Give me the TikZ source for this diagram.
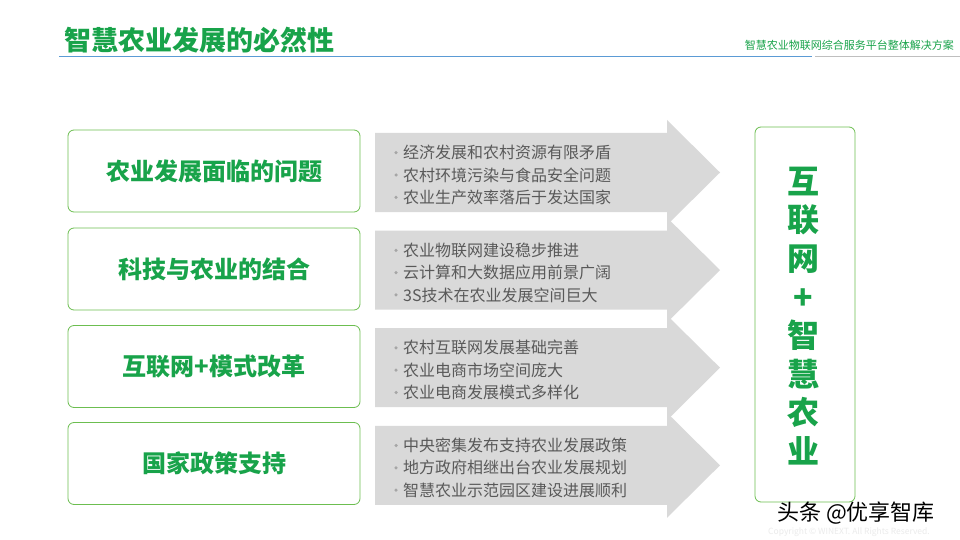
\documentclass[tikz,border=0pt]{standalone}
\usepackage{fontspec}
\setmainfont{Noto Sans CJK SC}
\newfontfamily\cjk{Noto Sans CJK SC}
\definecolor{tgreen}{RGB}{24,163,74}
\definecolor{bgreen}{RGB}{108,190,80}
\definecolor{agray}{RGB}{217,217,217}
\definecolor{tgray}{RGB}{89,89,89}
\definecolor{dgray}{RGB}{166,166,166}
\definecolor{lblue}{RGB}{91,155,213}
\definecolor{lgray}{RGB}{191,191,191}
\tikzset{
  leftbox/.style={draw=bgreen, line width=0.8pt, rounded corners=6pt, minimum width=292pt, minimum height=82pt, inner sep=0pt, text=tgreen, font=\cjk\bfseries\fontsize{24}{28}\selectfont},
  arrowshape/.style={fill=agray, draw=none},
  bullettext/.style={anchor=west, inner sep=0pt, text=tgray, font=\cjk\fontsize{16}{18}\selectfont},
  dot/.style={circle, fill=dgray, inner sep=0pt, minimum size=3.5pt},
}
\begin{document}
\begin{tikzpicture}[x=1pt,y=-1pt]
\useasboundingbox (0,0) rectangle (960,540);
\fill[white] (0,0) rectangle (960,540);
% header
\node[anchor=west, inner sep=0pt, text=tgreen, font=\cjk\bfseries\fontsize{27}{30}\selectfont] (title) at (64,40) {智慧农业发展的必然性};
\node[anchor=east, inner sep=0pt, text=tgreen, font=\cjk\fontsize{11}{13}\selectfont] (sub) at (954,45) {智慧农业物联网综合服务平台整体解决方案};
\draw[lblue, line width=1.6pt] (59,56.5) -- (812,56.5);
\draw[lgray, line width=1.6pt] (815,56.5) -- (960,56.5);
% left boxes
\node[leftbox] (b1) at (214,171) {农业发展面临的问题};
\node[leftbox] (b2) at (214,269) {科技与农业的结合};
\node[leftbox] (b3) at (214,366.5) {互联网+模式改革};
\node[leftbox] (b4) at (214,463.5) {国家政策支持};
% arrows
\foreach \i in {0,1,2,3}{
  \pgfmathsetmacro{\yt}{133+97.6*\i}
  \fill[agray] (375,\yt) -- (667,\yt) -- (667,\yt-13) -- (720,\yt+39.5) -- (667,\yt+92) -- (667,\yt+79) -- (375,\yt+79) -- cycle;
}
% bullet texts
\foreach \i/\a/\b/\c in {0/经济发展和农村资源有限矛盾/农村环境污染与食品安全问题/农业生产效率落后于发达国家,
                         1/农业物联网建设稳步推进/云计算和大数据应用前景广阔/3S技术在农业发展空间巨大,
                         2/农村互联网发展基础完善/农业电商市场空间庞大/农业电商发展模式多样化,
                         3/中央密集发布支持农业发展政策/地方政府相继出台农业发展规划/智慧农业示范园区建设进展顺利}{
  \pgfmathsetmacro{\yc}{133+97.6*\i+42}
  \node[dot] (d\i a) at (396,\yc-22.3) {};
  \node[dot] (d\i b) at (396,\yc) {};
  \node[dot] (d\i c) at (396,\yc+22.3) {};
  \node[bullettext] (t\i a) at (403,\yc-22.3) {\a};
  \node[bullettext] (t\i b) at (403,\yc) {\b};
  \node[bullettext] (t\i c) at (403,\yc+22.3) {\c};
}
% right box
\draw[bgreen, line width=0.8pt, rounded corners=6pt] (755,127) rectangle (855,502);
\node[align=center, inner sep=0pt, text=tgreen, font=\cjk\bfseries\fontsize{32}{38.6}\selectfont] (rt) at (803,316) {互\\联\\网\\+\\智\\慧\\农\\业};
% watermark
\node[inner sep=0pt, text=black, font=\cjk\fontsize{22}{26}\selectfont] (wm) at (856,513) {头条 @优享智库};
\node[inner sep=0pt, text=black!8, font=\fontsize{8.5}{10}\selectfont] (cr) at (849,532) {Copyright © WINEXT. All Rights Reserved.};
\end{tikzpicture}
\end{document}
